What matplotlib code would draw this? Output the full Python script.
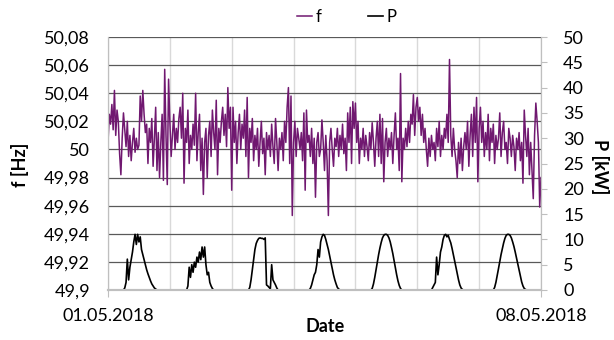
import matplotlib.pyplot as plt
import numpy as np

plt.rcParams['font.family'] = ['Lato', 'DejaVu Sans']

# frequency deviation from 50 Hz in mHz, 30 min steps, one list per day
f_day1 = [5, 25, 18, 32, 14, 42, 10, 28, 20, -3, -18, 8, 26, 14, 2, 20, -5, 10, -8, 5, 15, -2, 8, 0,
          3, 38, 20, 42, 25, 12, 18, -10, 15, 5, 22, -12, 8, 30, -15, 12, -20, 5, 25, -22, 57, 10, -25, 50]
f_day2 = [20, -5, 10, 25, 0, 15, 5, 22, 30, 8, 40, -24, 15, 5, 28, -10, 10, 0, 18, 3, 40, -8, 12, 25,
          -15, 8, -32, 5, 15, -20, 10, 20, -5, 28, 12, 0, 35, -18, 15, 5, 20, 30, 10, 25, 2, 44, 15, 30]
f_day3 = [-29, 30, 5, 20, -10, 12, 25, 0, 18, 8, 28, -5, 37, -20, 15, 5, 22, -8, 10, 0, 15, -12, 5, 20,
          -3, 8, -18, 12, 0, 10, -5, 18, 2, -10, 22, 5, -15, 8, 0, 12, -8, 20, 5, 30, 44, -10, 38, -47]
f_day4 = [5, 20, -5, 15, 8, 0, 12, -8, 26, -29, 28, 5, 10, -5, 15, -10, 8, -34, 5, 12, -5, 0, 21, 5,
          -15, 10, -8, -47, 5, 15, 0, -12, 8, 2, 15, -5, 10, 0, 18, -3, 8, -15, 26, 5, 30, -10, 34, 15]
f_day5 = [33, 5, 20, -10, 8, 0, 15, -5, 10, 2, -8, 12, 0, 19, 5, -12, 8, 20, -5, 25, -10, 22, -23, 5,
          15, -5, 8, 0, 12, -10, 10, 26, 0, 8, -15, 54, -23, 8, 0, 15, 2, 20, 5, 25, 18, 39, 10, 30]
f_day6 = [37, 20, 30, 10, 25, 5, 15, 0, -12, 8, -5, 10, 0, 5, -8, 15, 2, 20, -5, 10, 0, 15, 8, 25,
          5, 64, 10, -5, 15, 0, -8, -20, 5, -10, 8, -15, 2, 12, 0, 20, -12, 10, 25, -5, 30, 5, 37, -23]
f_day7 = [15, 30, 5, 20, -5, 12, 0, 25, -8, 15, 5, 18, -10, 10, 0, 8, 26, -5, 12, 20, 0, 5, -10, 15,
          8, -5, 10, 2, -15, 8, 0, 12, -8, 5, -24, 28, 10, -5, 15, -18, 5, -15, -35, 10, 33, 20, 5, -41]
f_last = [-20]

# PV power in kW, 30 min steps from 06:00 to 19:30, zero otherwise
p_day1 = [0, 0.4, 1.5, 6.1, 2.0, 4.5, 6.0, 7.5, 9.5, 11.0, 9.0, 11.0, 9.5, 10.5, 8.0, 7.0,
          6.0, 5.0, 4.0, 3.2, 2.5, 1.8, 1.2, 0.8, 0.4, 0.2, 0, 0]
p_day2 = [0, 0, 0.8, 4.5, 2.5, 5.0, 3.5, 5.5, 4.5, 6.5, 5.5, 7.5, 6.0, 8.5, 6.5, 8.5,
          5.0, 3.0, 3.5, 1.5, 0.8, 0.3, 0, 0, 0, 0, 0, 0]
p_day3 = [0, 0, 0.5, 2.0, 4.0, 6.0, 8.0, 9.2, 9.8, 10.2, 10.3, 10.2, 10.2, 10.0, 10.3, 1.0,
          0.8, 0.5, 0.3, 5.0, 2.0, 1.5, 1.0, 0.4, 0, 0, 0, 0]
p_day4 = [0, 0.3, 1.0, 2.0, 3.0, 3.5, 5.0, 8.0, 6.5, 9.5, 10.5, 11.0, 10.8, 10.0, 9.0, 8.0,
          6.8, 5.5, 4.2, 3.0, 2.0, 1.2, 0.5, 0.2, 0, 0, 0, 0]
p_day5 = [0, 0.3, 1.2, 2.5, 4.0, 5.5, 7.0, 8.3, 9.4, 10.3, 10.8, 11.0, 11.0, 10.8, 10.3, 9.5,
          8.4, 7.2, 5.8, 4.4, 3.0, 1.8, 0.9, 0.3, 0, 0, 0, 0]
p_day6 = [0.5, 1.0, 1.5, 6.5, 3.0, 5.0, 7.5, 8.5, 10.0, 10.8, 11.0, 10.5, 10.8, 10.0, 9.3, 8.2,
          7.0, 5.8, 4.5, 3.2, 2.0, 1.0, 0.4, 0.1, 0, 0, 0, 0]
p_day7 = [0.5, 1.5, 2.8, 4.2, 5.6, 7.0, 8.2, 9.3, 10.2, 10.8, 11.0, 11.0, 10.8, 10.3, 9.5, 8.6,
          7.5, 6.3, 5.0, 3.8, 2.6, 1.6, 0.8, 0.3, 0.1, 0, 0, 0]

date_labels = ['01.05.2018', '08.05.2018']

# assemble series
f_mhz = np.array(f_day1 + f_day2 + f_day3 + f_day4 + f_day5 + f_day6 + f_day7 + f_last)
f = 50 + f_mhz / 1000.0
p = np.zeros(7 * 48 + 1)
for d, day in enumerate([p_day1, p_day2, p_day3, p_day4, p_day5, p_day6, p_day7]):
    p[d * 48 + 12:d * 48 + 12 + len(day)] = day
t = np.arange(len(f)) / 48.0

fig = plt.figure(figsize=(6.14, 3.40), dpi=100)
ax = fig.add_axes([108 / 614, 50 / 340, 433 / 614, 253 / 340])
ax2 = ax.twinx()

ln_f, = ax.plot(t, f, color='#701870', lw=1.1)
ln_p, = ax2.plot(t, p, color='black', lw=1.2)

ax.set_xlim(0, 7)
ax.set_ylim(49.9, 50.08)
ax2.set_ylim(0, 50)

yt = np.round(np.arange(49.9, 50.081, 0.02), 2)
ax.set_yticks(yt)
ax.set_yticklabels([f"{v:.2f}".rstrip('0').rstrip('.').replace('.', ',') for v in yt])
ax2.set_yticks(np.arange(0, 51, 5))

ax.set_xticks([0, 7])
ax.set_xticklabels(date_labels)
ax.set_xticks(range(1, 7), minor=True)

ax.grid(axis='y', color='#595959', lw=0.9)
ax.grid(axis='x', which='both', color='#d9d9d9', lw=1)
ax.set_axisbelow(True)

ax.tick_params(axis='y', length=0, pad=13, labelsize=13)
ax.tick_params(axis='x', which='major', length=5, color='#bfbfbf', pad=8, labelsize=13)
ax.tick_params(axis='x', which='minor', length=0)
ax2.tick_params(axis='y', length=4, color='#bfbfbf', pad=12, labelsize=13)

for a in (ax, ax2):
    for s in ['top']:
        a.spines[s].set_visible(False)
    a.spines['left'].set_color('#bfbfbf')
    a.spines['right'].set_color('#bfbfbf')
    a.spines['bottom'].set_color('#bfbfbf')
    a.spines['bottom'].set_linewidth(1.5)

fig.text(20 / 614, 1 - 165 / 340, 'f [Hz]', rotation=90, ha='center', va='center',
         fontsize=13, fontweight='bold')
fig.text(600 / 614, 1 - 167 / 340, 'P [kW]', rotation=270, ha='center', va='center',
         fontsize=13, fontweight='bold')
fig.text(325 / 614, 1 - 327 / 340, 'Date', ha='center', va='center',
         fontsize=13, fontweight='bold')

fig.legend([ln_f, ln_p], ['f', 'P'], loc='center', bbox_to_anchor=(347 / 614, 1 - 17 / 340),
           ncol=2, frameon=False, fontsize=12, handlelength=0.9, handletextpad=0.2,
           columnspacing=2.8)

fig.savefig('out.png', dpi=100)
